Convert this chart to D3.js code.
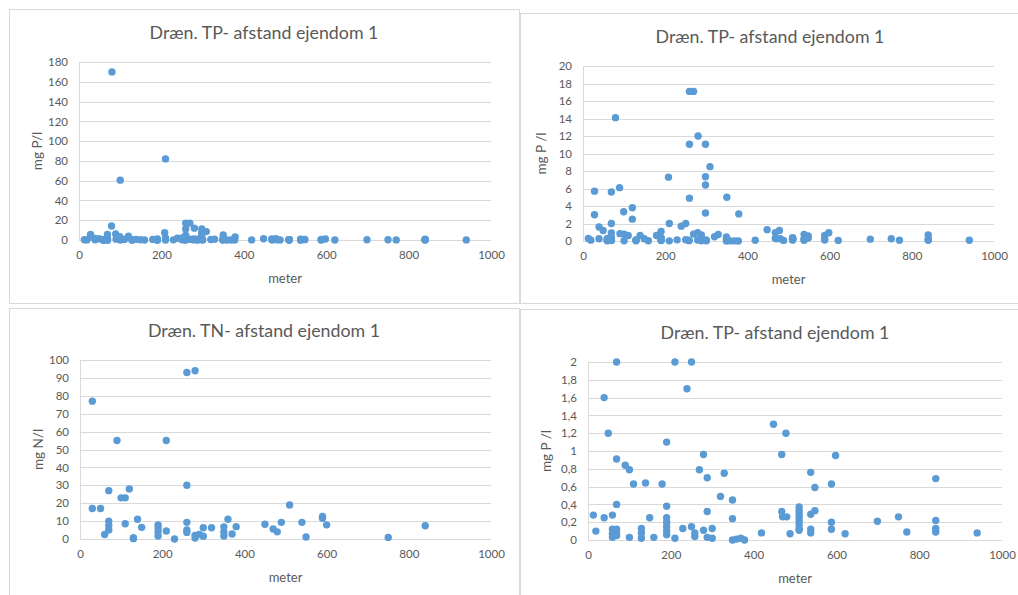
<!DOCTYPE html>
<html><head><meta charset="utf-8">
<script src="https://cdn.jsdelivr.net/npm/d3@7"></script>
<style>
body{margin:0;background:#fff;}
text{font-family:Lato,"Open Sans",sans-serif;}
</style>
</head><body>
<svg id="chart" width="1018" height="595"></svg>
<script>
// ---- data (TP: same series shown in three panels with different y ranges) ----
const tpDistance = [13,19,39,39,49,59,59,59,59,69,69,69,69,69,69,90,100,100,110,129,129,129,139,149,159,179,
  190,190,190,190,190,190,190,210,210,229,239,250,250,258,258,269,279,279,288,288,288,300,300,320,329,349,349,349,
  359,369,378,419,448,468,468,470,478,480,488,510,510,510,510,510,510,510,510,538,538,538,538,548,548,588,588,588,
  598,621,699,750,770,840,840,840,840,940,
  28,28,69,79,89,99,120,120,208,259,269,259,280,298,309,298,298,259,298,350,379,
  80,100,210];
const tpValue = [0.28,0.10,1.6,0.25,1.2,0.28,0.12,0.07,0.03,2.0,0.91,0.40,0.12,0.08,0.05,0.84,0.79,0.03,0.63,0.13,0.08,0.02,0.64,0.25,0.03,0.63,
  1.1,0.38,0.25,0.2,0.15,0.1,0.06,2.0,0.02,0.13,1.7,2.0,0.15,0.08,0.04,0.79,0.96,0.11,0.7,0.32,0.03,0.13,0.02,0.49,0.75,0.45,0.24,0.0,
  0.01,0.02,0.0,0.08,1.3,0.96,0.32,0.26,1.2,0.26,0.07,0.37,0.33,0.29,0.25,0.21,0.17,0.13,0.11,0.76,0.29,0.12,0.08,0.59,0.33,0.63,0.2,0.12,
  0.95,0.07,0.21,0.26,0.09,0.69,0.22,0.13,0.09,0.08,
  5.7,3.0,5.6,14.1,6.1,3.35,3.8,2.5,7.3,17.1,17.1,11.05,12.0,11.05,8.5,7.35,6.4,4.9,3.2,5.0,3.1,
  170,60.5,82];

const tnDistance = [30,30,50,60,70,70,70,70,90,100,110,110,120,130,130,140,150,190,190,190,190,210,210,230,
  260,280,260,260,260,260,280,280,290,300,300,320,350,350,350,360,370,380,450,470,480,490,510,540,550,590,590,600,750,840];
const tnValue = [77,17,17,2.5,27,10,7.5,5,55,23,23,8.5,28,0.7,0.2,11,6.5,7.8,6,4,1.7,55,4.5,0,
  93,94,30,9.3,5,3.7,2,0.5,2.6,1.5,6.3,6.3,6.8,4,1.7,11,2.8,6.9,8.2,5.6,4,9.3,19,9.3,1.1,12.6,11.6,7.9,0.9,7.4];

const xTicks = [0,200,400,600,800,1000];
const yTicksA = [0,20,40,60,80,100,120,140,160,180];
const yTicksB = [0,2,4,6,8,10,12,14,16,18,20];
const yTicksC = [0,10,20,30,40,50,60,70,80,90,100];
const yTicksD = [0,0.2,0.4,0.6,0.8,1,1.2,1.4,1.6,1.8,2];

const titles = ["Dræn. TP- afstand ejendom 1","Dræn. TP- afstand ejendom 1","Dræn. TN- afstand ejendom 1","Dræn. TP- afstand ejendom 1"];
const yTitles = ["mg P/l","mg P /l","mg N/l","mg P /l"];
const xTitle = "meter";

// ---- layout ----
const panels = [
  {frame:[9,9,510,294],   plot:[79,62,491,240],   tcx:264, x:tpDistance, y:tpValue, ticks:yTicksA},
  {frame:[520,13,520,290],plot:[583,66,994,241],  tcx:770, x:tpDistance, y:tpValue, ticks:yTicksB},
  {frame:[9,308,510,300], plot:[80,360,491,539],  tcx:264, x:tnDistance, y:tnValue, ticks:yTicksC},
  {frame:[520,309,520,300],plot:[588,362,1002,540],tcx:775, x:tpDistance, y:tpValue, ticks:yTicksD}
];

const svg = d3.select("#chart");
const grid = "#d9d9d9", txt = "#595959", dot = "#5b9bd5";
const fmt = v => String(+v.toFixed(1)).replace(".", ",");

panels.forEach((p, i) => {
  const [fx, fy, fw, fh] = p.frame;
  svg.append("rect").attr("x", fx + 0.5).attr("y", fy + 0.5).attr("width", fw).attr("height", fh)
    .attr("fill", "#fff").attr("stroke", grid).attr("stroke-width", 1);
});

panels.forEach((p, i) => {
  const [x0, y0, x1, y1] = p.plot;
  const ymax = p.ticks[p.ticks.length - 1];
  const xs = d3.scaleLinear().domain([0, 1000]).range([x0, x1]);
  const ys = d3.scaleLinear().domain([0, ymax]).range([y1, y0]);
  const g = svg.append("g");

  // gridlines
  g.selectAll("line.grid").data(p.ticks).join("line")
    .attr("x1", x0).attr("x2", x1)
    .attr("y1", d => Math.round(ys(d)) + 0.5).attr("y2", d => Math.round(ys(d)) + 0.5)
    .attr("stroke", grid).attr("stroke-width", 1);
  // vertical axis line
  g.append("line").attr("x1", x0 + 0.5).attr("x2", x0 + 0.5).attr("y1", y0).attr("y2", y1)
    .attr("stroke", grid);

  // y axis labels
  const yAxis = d3.axisLeft(ys).tickValues(p.ticks).tickSize(0).tickPadding(11).tickFormat(fmt);
  const ya = g.append("g").attr("transform", `translate(${x0},0)`).call(yAxis);
  ya.select(".domain").remove();
  ya.selectAll("text").attr("fill", txt).style("font-size", "11.5px").style("font-family", "Lato");

  // x axis labels
  const xAxis = d3.axisBottom(xs).tickValues(xTicks).tickSize(0).tickPadding(11).tickFormat(d3.format("d"));
  const xa = g.append("g").attr("transform", `translate(0,${y1})`).call(xAxis);
  xa.select(".domain").remove();
  xa.selectAll("text").attr("fill", txt).style("font-size", "11.5px").style("font-family", "Lato");

  // points (points above the axis maximum are not shown)
  const pts = p.x.map((d, k) => [d, p.y[k]]).filter(d => d[1] <= ymax + 1e-9);
  g.selectAll("circle").data(pts).join("circle")
    .attr("cx", d => xs(d[0])).attr("cy", d => ys(d[1])).attr("r", 3.7)
    .attr("fill", dot);

  // title
  g.append("text").attr("x", p.tcx).attr("y", y0 - 23).attr("text-anchor", "middle")
    .attr("fill", txt).style("font-size", "17.8px").text(titles[i]);
  // x title
  g.append("text").attr("x", (x0 + x1) / 2).attr("y", y1 + 43).attr("text-anchor", "middle")
    .attr("fill", txt).style("font-size", "13px").text(xTitle);
  // y title
  const cy = (y0 + y1) / 2;
  g.append("text").attr("transform", `translate(${x0 - 37},${cy}) rotate(-90)`)
    .attr("text-anchor", "middle").attr("fill", txt).style("font-size", "13.5px").text(yTitles[i]);
});
</script>
</body></html>
